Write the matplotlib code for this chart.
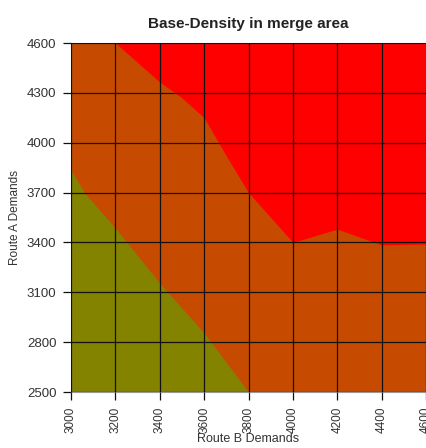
import numpy as np
import matplotlib
matplotlib.use('Agg')
from matplotlib import pyplot as plt

plt.rcParams['font.family'] = ['Liberation Sans', 'DejaVu Sans']

# Route B demand ticks and Route A demand ticks
x_ticks = [3000, 3200, 3400, 3600, 3800, 4000, 4200, 4400, 4600]
y_ticks = [2500, 2800, 3100, 3400, 3700, 4000, 4300, 4600]

# low-density / mid-density boundary (Route A value along Route B)
low_x = [3000, 3060, 3200, 3400, 3600, 3800]
low_y = [3835, 3700, 3486, 3155, 2855, 2500]

# mid-density / high-density boundary
high_x = [3200, 3400, 3500, 3600, 3700, 3800, 4000, 4200, 4400, 4600]
high_y = [4600, 4365, 4270, 4150, 3920, 3700, 3400, 3480, 3385, 3390]

col_low = '#838300'
col_mid = '#c64b00'
col_high = '#ff0000'

fig = plt.figure(figsize=(4.26, 4.48), dpi=100)
ax = fig.add_axes([71/426, 56/448, 355/426, 349/448])

# mid density fills the whole area, the other two are painted on top
ax.set_facecolor(col_mid)
ax.fill_between(low_x, 2500, low_y, color=col_low, lw=0)
ax.fill_between(high_x, high_y, 4600, color=col_high, lw=0)

ax.set_xlim(3000, 4600)
ax.set_ylim(2500, 4600)
ax.set_xticks(x_ticks)
ax.set_yticks(y_ticks)
ax.set_xticklabels([str(v) for v in x_ticks], rotation=90)
ax.grid(True, color='#111111', lw=0.9)
ax.set_axisbelow(False)
ax.tick_params(length=5.5, width=0.9, color='#111111',
               labelcolor='#333333')
ax.tick_params(axis='y', labelsize=9.5, pad=5)
ax.tick_params(axis='x', labelsize=8.5, pad=5)

for s in ax.spines.values():
    s.set_color('#999999')
    s.set_linewidth(0.8)

ax.set_title('Base-Density in merge area', fontsize=11, fontweight='bold',
             color='#222222', pad=11)
ax.set_xlabel('Route B Demands', fontsize=9, color='#333333', labelpad=0)
ax.set_ylabel('Route A Demands', fontsize=8.5, color='#333333', labelpad=4)

fig.savefig('out.png', dpi=100)
